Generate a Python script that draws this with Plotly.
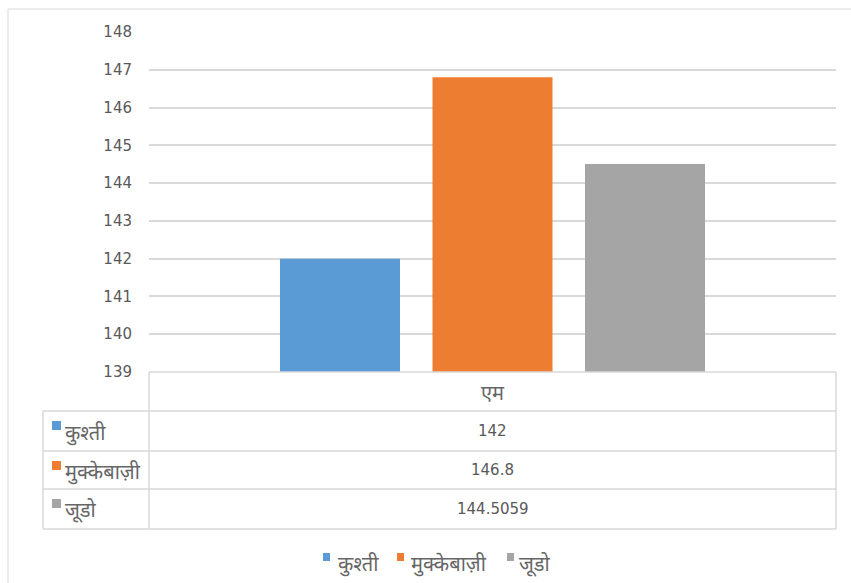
import plotly.graph_objects as go

categories = ["एम"]
series_names = ["कुश्ती", "मुक्केबाज़ी", "जूडो"]
series_values = [[142], [146.8], [144.5059]]
value_labels = ["142", "146.8", "144.5059"]
colors = ["#5B9BD5", "#ED7D31", "#A5A5A5"]
y_ticks = [139, 140, 141, 142, 143, 144, 145, 146, 147, 148]

W, H = 851, 583
L, R, T, B = 149, 836, 32, 372  # plot area in pixels

def px(x):
    return (x - L) / (R - L)

def py(y):
    return (B - y) / (B - T)

NUM_FONT = "'DejaVu Sans', 'Open Sans', sans-serif"
DEV_FONT = "'Open Sans', 'Noto Sans', sans-serif"
NUM_SIZE = 15
DEV_SIZE = 20
HEAD_SIZE = 20
TXT = "#595959"
DEV_TXT = "#666666"
GRID = "#D9D9D9"

fig = go.Figure()
for name, vals, c in zip(series_names, series_values, colors):
    fig.add_trace(go.Bar(x=categories, y=vals, name=name, marker=dict(color=c, line=dict(width=0))))

shapes = []
# outer chart border
shapes.append(dict(type="rect", xref="paper", yref="paper", x0=px(8), x1=px(870), y0=py(600), y1=py(9),
                   line=dict(color=GRID, width=1), fillcolor="rgba(0,0,0,0)", layer="below"))
# data table lines
row_y = [372, 411, 451, 489, 529]
for i, yv in enumerate(row_y):
    x0 = L if i == 0 else 43
    shapes.append(dict(type="line", xref="paper", yref="paper", x0=px(x0), x1=px(R), y0=py(yv), y1=py(yv),
                       line=dict(color=GRID, width=1.5)))
for xv, ytop in [(L, 372), (R, 372), (43, 411)]:
    shapes.append(dict(type="line", xref="paper", yref="paper", x0=px(xv), x1=px(xv), y0=py(ytop), y1=py(529),
                       line=dict(color=GRID, width=1.5)))

annotations = []
# header
annotations.append(dict(xref="paper", yref="paper", x=px((L + R) / 2), y=py(392), text=categories[0],
                        showarrow=False, font=dict(family=DEV_FONT, size=HEAD_SIZE, color=DEV_TXT),
                        xanchor="center", yanchor="middle"))
for i, (name, lab, c) in enumerate(zip(series_names, value_labels, colors)):
    y0, y1 = row_y[i + 1], row_y[i + 2]
    yc = (y0 + y1) / 2
    annotations.append(dict(xref="paper", yref="paper", x=px((L + R) / 2), y=py(yc), text=lab,
                            showarrow=False, font=dict(family=NUM_FONT, size=NUM_SIZE, color=TXT),
                            xanchor="center", yanchor="middle"))
    annotations.append(dict(xref="paper", yref="paper", x=px(63), y=py(yc + 1), text=name,
                            showarrow=False, font=dict(family=DEV_FONT, size=DEV_SIZE, color=DEV_TXT),
                            xanchor="left", yanchor="middle"))
    shapes.append(dict(type="rect", xref="paper", yref="paper", x0=px(52), x1=px(61),
                       y0=py(y0 + 19), y1=py(y0 + 10), fillcolor=c, line=dict(width=0)))

# legend (bottom, centered)
legend_sq_x = [323, 397, 507]
legend_txt_x = [336, 409, 517]
for name, c, sx, tx in zip(series_names, colors, legend_sq_x, legend_txt_x):
    shapes.append(dict(type="rect", xref="paper", yref="paper", x0=px(sx), x1=px(sx + 7),
                       y0=py(561), y1=py(553), fillcolor=c, line=dict(width=0)))
    annotations.append(dict(xref="paper", yref="paper", x=px(tx), y=py(563), text=name,
                            showarrow=False, font=dict(family=DEV_FONT, size=DEV_SIZE, color=DEV_TXT),
                            xanchor="left", yanchor="middle"))

fig.update_layout(
    width=W, height=H,
    margin=dict(l=L, r=W - R, t=T, b=H - B),
    paper_bgcolor="white", plot_bgcolor="white",
    barmode="group", bargap=0.334, bargroupgap=0.213,
    showlegend=False,
    font=dict(family=NUM_FONT, size=NUM_SIZE, color=TXT),
    xaxis=dict(showticklabels=False, showgrid=False, zeroline=False, showline=False, fixedrange=True),
    yaxis=dict(range=[139, 148], tickvals=y_ticks, showgrid=True, gridcolor=GRID, gridwidth=1.5,
               zeroline=False, showline=False, ticks="", ticklabelstandoff=16,
               tickfont=dict(family=NUM_FONT, size=NUM_SIZE, color=TXT)),
    shapes=shapes, annotations=annotations,
)

fig.write_html("out.html")
